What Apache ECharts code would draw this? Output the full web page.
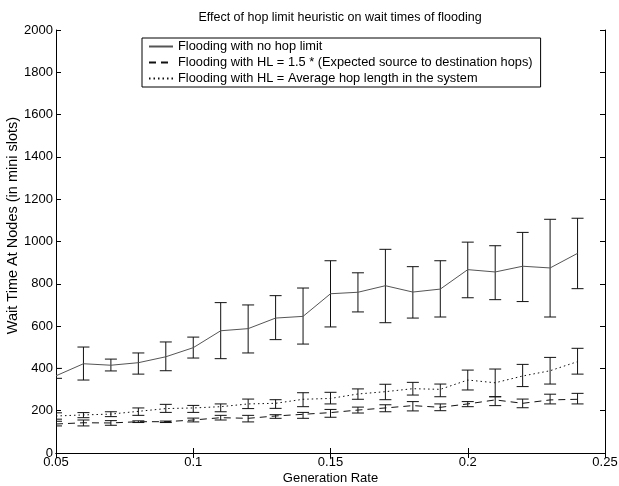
<!DOCTYPE html>
<html>
<head>
<meta charset="utf-8">
<script src="https://cdn.jsdelivr.net/npm/echarts@6/dist/echarts.min.js"></script>
<style>
  html, body { margin: 0; padding: 0; background: #fff; }
  #chart { width: 619px; height: 486px; }
</style>
</head>
<body>
<div id="chart"></div>
<script>
// generation rates
var rates = [0.05, 0.06, 0.07, 0.08, 0.09, 0.10, 0.11, 0.12, 0.13, 0.14,
             0.15, 0.16, 0.17, 0.18, 0.19, 0.20, 0.21, 0.22, 0.23, 0.24];

// flooding with no hop limit
var noLimit     = [365, 422, 415, 427, 455, 498, 578, 588, 638, 646, 753, 760, 791, 761, 775, 867, 856, 883, 875, 944];
var noLimitHigh = [400, 501, 444, 473, 525, 548, 711, 700, 744, 780, 909, 852, 963, 881, 909, 997, 980, 1043, 1105, 1110];
var noLimitLow  = [353, 345, 388, 373, 389, 449, 446, 473, 536, 515, 596, 667, 616, 638, 643, 734, 725, 716, 643, 777];

// HL = 1.5 * expected hops
var hl15     = [137, 143, 142, 148, 148, 156, 167, 164, 175, 183, 191, 203, 213, 224, 216, 232, 251, 235, 251, 254];
var hl15High = [150, 156, 153, 152, 151, 165, 178, 178, 181, 192, 206, 217, 228, 243, 232, 243, 266, 255, 278, 282];
var hl15Low  = [128, 128, 131, 144, 144, 147, 156, 147, 164, 164, 169, 189, 195, 199, 200, 219, 224, 214, 232, 232];

// HL = average hop length
var hlAvg     = [175, 180, 184, 197, 210, 213, 219, 232, 235, 254, 258, 279, 290, 304, 301, 345, 332, 364, 389, 432];
var hlAvgHigh = [190, 191, 195, 213, 230, 225, 232, 255, 252, 285, 287, 303, 325, 334, 326, 392, 397, 419, 452, 495];
var hlAvgLow  = [160, 167, 172, 178, 192, 192, 195, 210, 211, 219, 232, 254, 252, 274, 266, 298, 266, 314, 326, 373];

var names = [
  'Flooding with no hop limit',
  'Flooding with HL = 1.5 * (Expected source to destination hops)',
  'Flooding with HL = Average hop length in the system'
];

var font = 'Liberation Sans';

function pairs(vals) {
  return rates.map(function (r, i) { return [r, vals[i]]; });
}
function bars(low, high) {
  return rates.map(function (r, i) { return [r, low[i], high[i]]; });
}

// error bar: vertical line + two caps
function renderBar(params, api) {
  var lo = api.coord([api.value(0), api.value(1)]);
  var hi = api.coord([api.value(0), api.value(2)]);
  var w = 6;
  var st = { stroke: '#111', lineWidth: 1 };
  return {
    type: 'group',
    children: [
      { type: 'line', shape: { x1: lo[0], y1: lo[1], x2: hi[0], y2: hi[1] }, style: st },
      { type: 'line', shape: { x1: lo[0] - w, y1: lo[1], x2: lo[0] + w, y2: lo[1] }, style: st },
      { type: 'line', shape: { x1: hi[0] - w, y1: hi[1], x2: hi[0] + w, y2: hi[1] }, style: st }
    ]
  };
}

function lineSeries(name, vals, type, color) {
  return {
    name: name,
    type: 'line',
    data: pairs(vals),
    showSymbol: false,
    symbol: 'none',
    animation: false,
    lineStyle: { color: color, width: 1, type: type },
    itemStyle: { color: color }
  };
}
function barSeries(low, high) {
  return {
    type: 'custom',
    renderItem: renderBar,
    data: bars(low, high),
    clip: true,
    animation: false,
    z: 3
  };
}

var chart = echarts.init(document.getElementById('chart'));
chart.setOption({
  backgroundColor: '#fff',
  animation: false,
  title: {
    text: 'Effect of hop limit heuristic on wait times of flooding',
    left: 335,
    textAlign: 'center',
    top: 6,
    textStyle: { fontFamily: font, fontSize: 12.5, fontWeight: 'normal', color: '#000' }
  },
  legend: {
    orient: 'vertical',
    left: 142,
    top: 38,
    itemGap: 3,
    itemWidth: 24,
    itemHeight: 14,
    padding: [2, 8, 2, 6],
    borderColor: '#000',
    borderWidth: 1,
    backgroundColor: '#fff',
    data: names,
    itemStyle: { opacity: 0 },
    textStyle: { fontFamily: font, fontSize: 12.8, color: '#000' }
  },
  grid: { left: 56, right: 14, top: 30, bottom: 33, show: false, containLabel: false, outerBoundsMode: 'none' },
  xAxis: [{
    type: 'value',
    min: 0.05, max: 0.25, interval: 0.05,
    name: 'Generation Rate',
    nameLocation: 'middle',
    nameGap: 19,
    nameMoveOverlap: false,
    nameTextStyle: { fontFamily: font, fontSize: 13, color: '#000' },
    axisLine: { lineStyle: { color: '#000' } },
    axisTick: { inside: true, length: 5, lineStyle: { color: '#000' } },
    axisLabel: { fontFamily: font, fontSize: 13, color: '#000', margin: 3,
      formatter: function (v) { return String(+v.toFixed(2)); } },
    splitLine: { show: false }
  }, {
    type: 'value', position: 'top',
    min: 0.05, max: 0.25, interval: 0.05,
    axisLine: { lineStyle: { color: '#000' } },
    axisTick: { inside: true, length: 5, lineStyle: { color: '#000' } },
    axisLabel: { show: false },
    splitLine: { show: false }
  }],
  yAxis: [{
    type: 'value',
    min: 0, max: 2000, interval: 200,
    name: 'Wait Time At Nodes (in mini slots)',
    nameLocation: 'middle',
    nameGap: 36,
    nameMoveOverlap: false,
    nameTextStyle: { fontFamily: font, fontSize: 14.5, color: '#000', padding: [0, 0, 0, 32] },
    axisLine: { show: true, lineStyle: { color: '#000' } },
    axisTick: { show: true, inside: true, length: 5, lineStyle: { color: '#000' } },
    axisLabel: { fontFamily: font, fontSize: 13, color: '#000', margin: 3,
      formatter: function (v) { return String(v); } },
    splitLine: { show: false }
  }, {
    type: 'value', position: 'right',
    min: 0, max: 2000, interval: 200,
    axisLine: { show: true, lineStyle: { color: '#000' } },
    axisTick: { show: true, inside: true, length: 5, lineStyle: { color: '#000' } },
    axisLabel: { show: false },
    splitLine: { show: false }
  }],
  series: [
    lineSeries(names[0], noLimit, 'solid', '#555'),
    lineSeries(names[1], hl15, [7, 5], '#111'),
    lineSeries(names[2], hlAvg, [1.5, 3], '#111'),
    barSeries(noLimitLow, noLimitHigh),
    barSeries(hl15Low, hl15High),
    barSeries(hlAvgLow, hlAvgHigh)
  ]
});
</script>
</body>
</html>
